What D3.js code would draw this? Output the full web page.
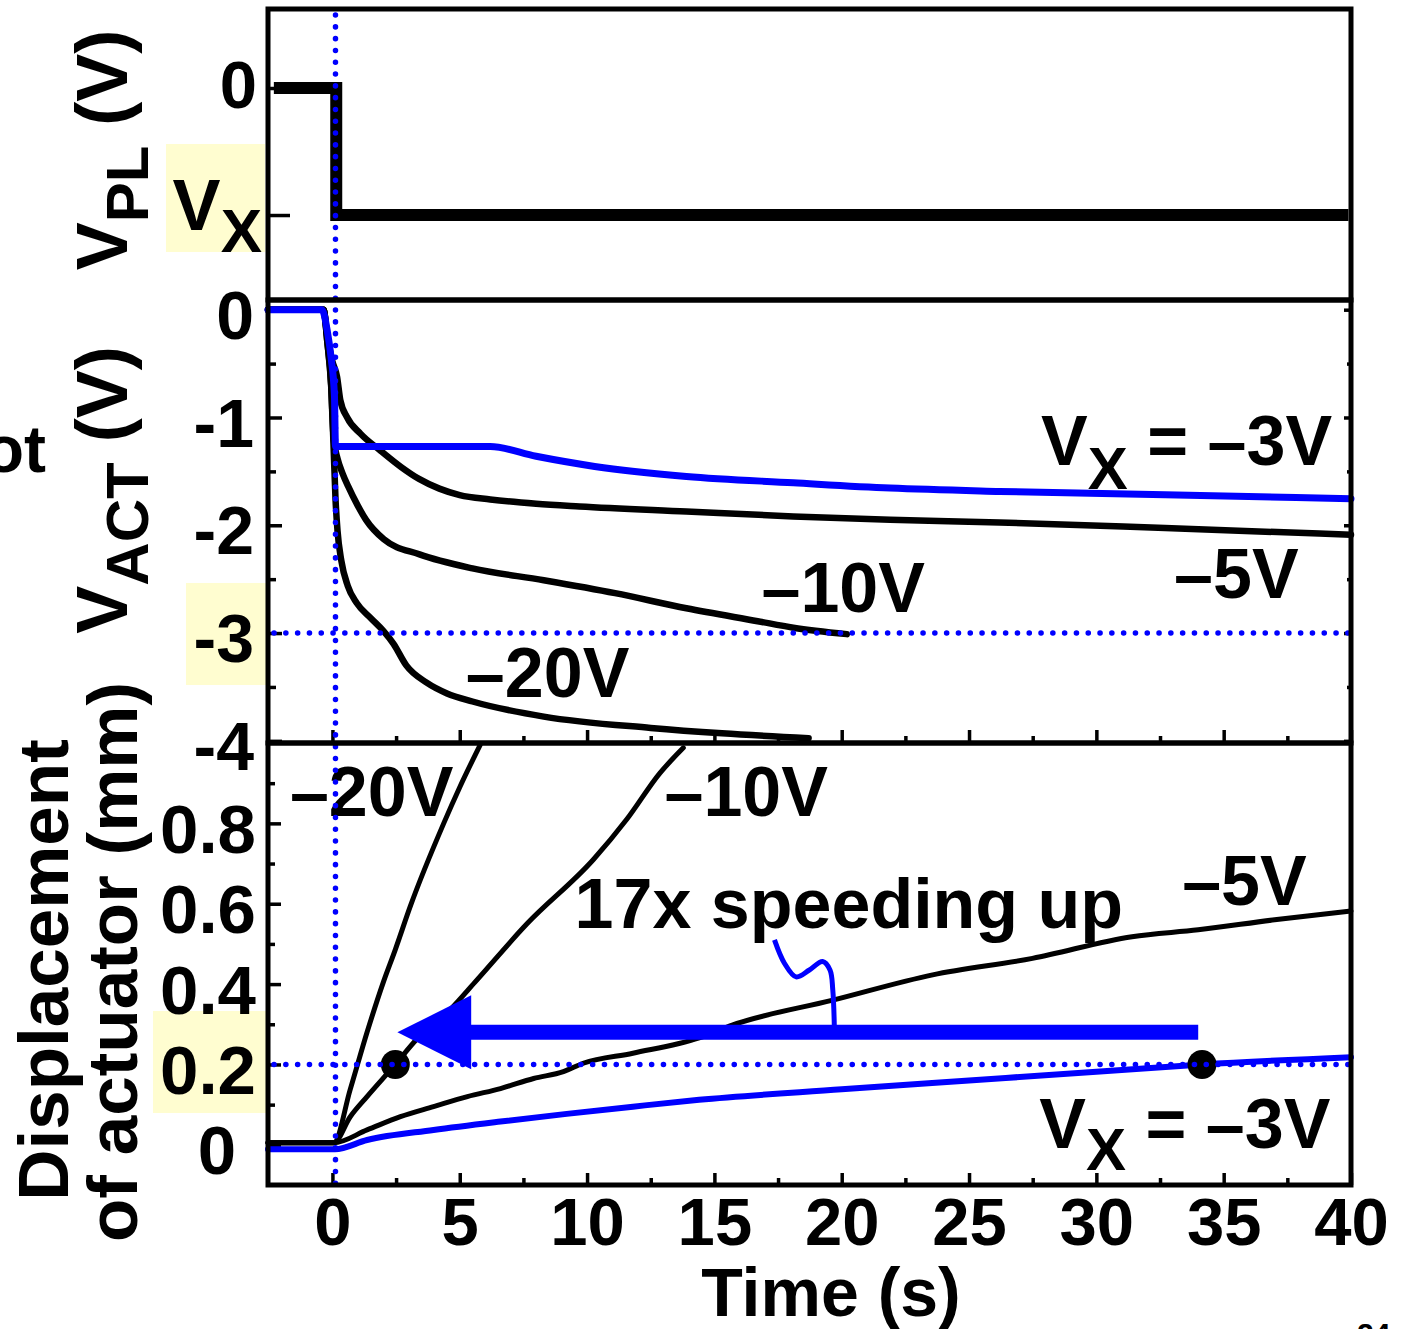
<!DOCTYPE html>
<html>
<head>
<meta charset="utf-8">
<script src="https://cdn.jsdelivr.net/npm/d3@7"></script>
<style>
  body { margin: 0; background: #fff; }
  text { font-family: "Liberation Sans", Arial, Helvetica, sans-serif; font-weight: bold; }
</style>
</head>
<body>
<svg id="chart" width="1413" height="1329"></svg>
<script>
// ---- data (time in s) ----
// top panel: plate voltage, step from 0 to Vx (Vx drawn as -1)
const vplTime  = [-2.3, 0.15, 0.15, 39.9];
const vplLevel = [0, 0, -1, -1];

// middle panel: actuator voltage (V)
const actTimeM3  = [-2.53, -0.41, -0.2, -0.05, 0.08, 0.12, 3.0, 6.2, 8.0, 10.3, 13.9, 18.1, 21.9, 26.2, 32.7, 40];
const actM3      = [0, 0, -0.2, -0.45, -0.8, -1.27, -1.27, -1.27, -1.36, -1.454, -1.547, -1.606, -1.655, -1.686, -1.717, -1.754];
const actTimeM5  = [-2.53, -0.35, -0.2, 0.0, 0.18, 0.31, 0.58, 1.1, 1.9, 2.7, 3.4, 4.2, 5.0, 6.2, 8.0, 9.7, 13.9, 18.1, 21.9, 26.2, 32.7, 40];
const actM5      = [0, 0, -0.25, -0.48, -0.62, -0.84, -1.0, -1.15, -1.31, -1.46, -1.57, -1.66, -1.72, -1.76, -1.80, -1.825, -1.872, -1.918, -1.949, -1.974, -2.026, -2.088];
const actTimeM10 = [-2.53, -0.35, -0.2, -0.05, 0.05, 0.2, 0.4, 0.62, 1.0, 1.32, 2.02, 3.42, 5.5, 8.3, 11.1, 13.9, 16.7, 18.1, 20.2];
const actM10     = [0, 0, -0.3, -0.7, -1.2, -1.38, -1.52, -1.64, -1.82, -1.95, -2.13, -2.27, -2.40, -2.51, -2.63, -2.77, -2.89, -2.95, -3.01];
const actTimeM20 = [-2.53, -0.35, -0.2, -0.05, 0.05, 0.12, 0.2, 0.35, 0.6, 0.95, 1.5, 2.0, 2.4, 2.9, 3.7, 4.5, 5.5, 8.3, 12.5, 15.3, 18.7];
const actM20     = [0, 0, -0.3, -0.7, -1.3, -1.75, -2.05, -2.33, -2.56, -2.72, -2.86, -2.98, -3.1, -3.3, -3.46, -3.56, -3.635, -3.775, -3.88, -3.93, -3.975];

// bottom panel: displacement of actuator (mm)
const dispTimeM3  = [-2.53, 0.1, 1.36, 3.97, 6.6, 9.2, 11.8, 14.4, 20, 25, 30, 34.15, 40];
const dispM3      = [-0.011, -0.011, 0.012, 0.037, 0.058, 0.077, 0.095, 0.112, 0.138, 0.16, 0.182, 0.2, 0.218];
const dispTimeM5  = [-2.53, 0.05, 1.36, 2.67, 3.97, 5.3, 6.6, 7.9, 9.07, 9.85, 11.8, 14.4, 15.7, 19.65, 23.57, 27.49, 31.4, 34.0, 37.0, 40];
const dispM5      = [0.005, 0.005, 0.037, 0.07, 0.095, 0.12, 0.14, 0.165, 0.182, 0.203, 0.228, 0.266, 0.298, 0.36, 0.423, 0.464, 0.518, 0.535, 0.56, 0.582];
const dispTimeM10 = [-2.53, 0.05, 0.7, 1.36, 2.47, 3.3, 4.63, 5.6, 7.64, 10.25, 11.56, 12.86, 13.78];
const dispM10     = [0.005, 0.005, 0.07, 0.12, 0.2, 0.262, 0.337, 0.405, 0.55, 0.71, 0.81, 0.925, 0.988];
const dispTimeM20 = [-2.53, 0.05, 0.7, 1.36, 2.0, 2.47, 3.06, 4.37, 5.0, 5.8];
const dispM20     = [0.005, 0.005, 0.138, 0.28, 0.405, 0.486, 0.594, 0.80, 0.89, 0.995];

// markers at 0.2 mm and the speed-up arrow
const markerTime = [2.47, 34.15];
const markerDisp = [0.2, 0.2];
const arrowShaftTime = [34.0, 5.0];
const arrowLevel = 0.28;
const arrowHead = [[2.55, 0.28], [5.45, 0.372], [5.45, 0.188]];
const squiggle = [[17.36, 0.51], [17.75, 0.452], [18.21, 0.418], [18.73, 0.435], [19.25, 0.456],
                  [19.54, 0.435], [19.65, 0.385], [19.71, 0.294]];

// reference levels
const stepTime = 0.12;
const actRef = -3;
const dispRef = 0.2;

// ticks
const xMajor = [0, 5, 10, 15, 20, 25, 30, 35, 40];
const xMinor = [2.5, 7.5, 12.5, 17.5, 22.5, 27.5, 32.5, 37.5];
const vplTicks = [0, -1];
const actMajor = [0, -1, -2, -3, -4];
const actMinor = [-0.5, -1.5, -2.5, -3.5];
const dispMajor = [0, 0.2, 0.4, 0.6, 0.8];
const dispMinor = [0.1, 0.3, 0.5, 0.7, 0.9];

// annotations (t, value)
const actLabels = [
  { t: 27.83, v: -1.442, parts: [["V"], ["X", 1], [" = \u20133V"]] },
  { t: 33.05, v: -2.675, parts: [["\u20135V"]] },
  { t: 16.85, v: -2.805, parts: [["\u201310V"]] },
  { t: 5.24,  v: -3.594, parts: [["\u201320V"]] }
];
const dispLabels = [
  { t: -1.67, v: 0.818,  parts: [["\u201320V"]] },
  { t: 13.04, v: 0.818,  parts: [["\u201310V"]] },
  { t: 9.51,  v: 0.54,   parts: [["17x speeding up"]] },
  { t: 33.37, v: 0.597,  parts: [["\u20135V"]] },
  { t: 27.76, v: -0.008, parts: [["V"], ["X", 1], [" = \u20133V"]] }
];

// ---- layout ----
const svg = d3.select("#chart");
const X0 = 268, X1 = 1351;
const P1 = [9, 300], P2 = [300, 743], P3 = [743, 1185];
const BLUE = "#0000ff";
const HL = "#fffdd0";

const x  = d3.scaleLinear().domain([-2.53, 40]).range([X0, X1]);
const y1 = d3.scaleLinear().domain([-1.669, 0.622]).range([P1[1], P1[0]]);
const y2 = d3.scaleLinear().domain([-4.02, 0.09]).range([P2[1], P2[0]]);
const y3 = d3.scaleLinear().domain([-0.1, 1.0]).range([P3[1], P3[0]]);

svg.append("rect").attr("width", 1413).attr("height", 1329).attr("fill", "#fff");

// highlight boxes behind tick labels
svg.append("rect").attr("x", 166).attr("y", 144).attr("width", 99).attr("height", 108).attr("fill", HL);
svg.append("rect").attr("x", 186).attr("y", 583).attr("width", 81).attr("height", 102).attr("fill", HL);
svg.append("rect").attr("x", 153).attr("y", 1011).attr("width", 114).attr("height", 102).attr("fill", HL);

function addAxis(axis, transform, size) {
  const g = svg.append("g").attr("transform", transform).call(axis);
  g.attr("font-family", null).attr("font-size", size);
  g.select(".domain").remove();
  g.selectAll(".tick line").attr("stroke", "#000").attr("stroke-width", 3.5);
  g.selectAll(".tick text").attr("fill", "#000");
  return g;
}
const fmt = d => String(d);

// top panel ticks
const g1 = addAxis(d3.axisLeft(y1).tickValues(vplTicks).tickSize(-22).tickPadding(11)
  .tickFormat(d => d === 0 ? "0" : ""), `translate(${X0},0)`, 67);
g1.selectAll(".tick text").attr("dy", "0.29em");

// middle panel ticks
const g2 = addAxis(d3.axisLeft(y2).tickValues(actMajor).tickSize(-14).tickPadding(14).tickFormat(fmt),
  `translate(${X0},0)`, 68);
g2.selectAll(".tick text").attr("dy", "0.42em");
addAxis(d3.axisLeft(y2).tickValues(actMinor).tickSize(-8).tickFormat(""), `translate(${X0},0)`, 10);
addAxis(d3.axisRight(y2).tickValues(actMajor).tickSize(-7).tickFormat(""), `translate(${X1},0)`, 10);
addAxis(d3.axisRight(y2).tickValues(actMinor).tickSize(-4).tickFormat(""), `translate(${X1},0)`, 10);
addAxis(d3.axisBottom(x).tickValues(xMajor).tickSize(-13).tickFormat(""), `translate(0,${P2[1]})`, 10);
addAxis(d3.axisBottom(x).tickValues(xMinor).tickSize(-7).tickFormat(""), `translate(0,${P2[1]})`, 10);

// bottom panel ticks
const g3 = addAxis(d3.axisLeft(y3).tickValues(dispMajor).tickSize(-13).tickPadding(12)
  .tickFormat(d => d === 0 ? "0" : d.toFixed(1)), `translate(${X0},0)`, 69);
g3.selectAll(".tick text").attr("dy", "0.42em").attr("dx", d => d === 0 ? -20 : 0);
addAxis(d3.axisLeft(y3).tickValues(dispMinor).tickSize(-7).tickFormat(""), `translate(${X0},0)`, 10);
const gx = addAxis(d3.axisBottom(x).tickValues(xMajor).tickSize(-12).tickFormat(fmt),
  `translate(0,${P3[1]})`, 67);
gx.selectAll(".tick text").attr("y", 60).attr("dy", 0);
addAxis(d3.axisBottom(x).tickValues(xMinor).tickSize(-7).tickFormat(""), `translate(0,${P3[1]})`, 10);

// ---- data lines ----
function path(ts, vs, ys, curve) {
  return d3.line().x(d => x(d[0])).y(d => ys(d[1])).curve(curve || d3.curveLinear)(ts.map((t, i) => [t, vs[i]]));
}
function drawLine(ts, vs, ys, color, w) {
  svg.append("path").attr("d", path(ts, vs, ys, d3.curveMonotoneX)).attr("fill", "none")
    .attr("stroke", color).attr("stroke-width", w).attr("stroke-linejoin", "round")
    .attr("stroke-linecap", "round");
}

svg.append("path").attr("d", path(vplTime, vplLevel, y1)).attr("fill", "none")
  .attr("stroke", "#000").attr("stroke-width", 12).attr("stroke-linejoin", "miter");

drawLine(actTimeM20, actM20, y2, "#000", 6.5);
drawLine(actTimeM10, actM10, y2, "#000", 6.5);
drawLine(actTimeM5, actM5, y2, "#000", 6.5);
drawLine(actTimeM3, actM3, y2, BLUE, 7);

drawLine(dispTimeM20, dispM20, y3, "#000", 5);
drawLine(dispTimeM10, dispM10, y3, "#000", 5);
drawLine(dispTimeM5, dispM5, y3, "#000", 5);
drawLine(dispTimeM3, dispM3, y3, BLUE, 6);

svg.selectAll(".marker").data(markerTime).enter().append("circle")
  .attr("cx", d => x(d)).attr("cy", (d, i) => y3(markerDisp[i])).attr("r", 14.5).attr("fill", "#000");

// arrow and squiggle connector
svg.append("line").attr("x1", x(arrowShaftTime[0])).attr("x2", x(arrowShaftTime[1]))
  .attr("y1", y3(arrowLevel)).attr("y2", y3(arrowLevel)).attr("stroke", BLUE).attr("stroke-width", 15);
svg.append("path").attr("d", d3.line().x(d => x(d[0])).y(d => y3(d[1]))(arrowHead) + "Z").attr("fill", BLUE);
svg.append("path").attr("d", d3.line().x(d => x(d[0])).y(d => y3(d[1])).curve(d3.curveCatmullRom)(squiggle))
  .attr("fill", "none").attr("stroke", BLUE).attr("stroke-width", 5);

// ---- text ----
function label(parts, tx, ty, size, subSize, shift, anchor, rot) {
  const t = svg.append("text").attr("font-size", size).attr("fill", "#000")
    .attr("text-anchor", anchor || "start")
    .attr("transform", `translate(${tx},${ty})` + (rot ? " rotate(-90)" : ""));
  let down = 0;
  parts.forEach(p => {
    const s = t.append("tspan").text(p[0]);
    const want = p[1] ? shift : 0;
    s.attr("dy", want - down).attr("font-size", p[1] ? subSize : size);
    if (p[0].startsWith(" ")) s.attr("style", "white-space:pre");
    down = want;
  });
  t.attr("xml:space", "preserve");
  return t;
}

actLabels.forEach(d => label(d.parts, x(d.t), y2(d.v), 70, 60, 24));
dispLabels.forEach(d => label(d.parts, x(d.t), y3(d.v), 70, 60, 22));

// top panel Vx tick label
label([["V"], ["X", 1]], 262, 230, 72, 62, 22, "end");

// axis titles
label([["V"], ["PL", 1], [" (V)"]], 127, 150, 72, 60, 21, "middle", true);
label([["V"], ["ACT", 1], [" (V)"]], 127, 490, 72, 60, 21, "middle", true);
label([["Displacement"]], 68, 970, 71, 60, 0, "middle", true);
label([["of actuator (mm)"]], 137, 962, 71, 60, 0, "middle", true);
label([["Time (s)"]], 831, 1316, 68, 60, 0, "middle");

// fragments cut at the slide edges (cut in the source as well)
label([["ot"]], 46, 472, 66, 60, 0, "end");
svg.append("text").attr("x", 1357).attr("y", 1344).attr("font-size", 30)
  .attr("font-weight", "normal").attr("fill", "#000").text("24");

// ---- dotted guide lines ----
function dotted(x1, y1v, x2, y2v) {
  svg.append("line").attr("x1", x1).attr("y1", y1v).attr("x2", x2).attr("y2", y2v)
    .attr("stroke", BLUE).attr("stroke-width", 5.5).attr("stroke-linecap", "round")
    .attr("stroke-dasharray", "0.1 11.7");
}
dotted(x(stepTime), P1[0] + 6, x(stepTime), P3[1] + 4);
dotted(X0 + 6, y2(actRef), X1, y2(actRef));
dotted(X0 + 6, y3(dispRef), X1, y3(dispRef));

// ---- panel frames ----
[P1, P2, P3].forEach(p => {
  svg.append("rect").attr("x", X0).attr("y", p[0]).attr("width", X1 - X0).attr("height", p[1] - p[0])
    .attr("fill", "none").attr("stroke", "#000").attr("stroke-width", 5);
});
</script>
</body>
</html>
